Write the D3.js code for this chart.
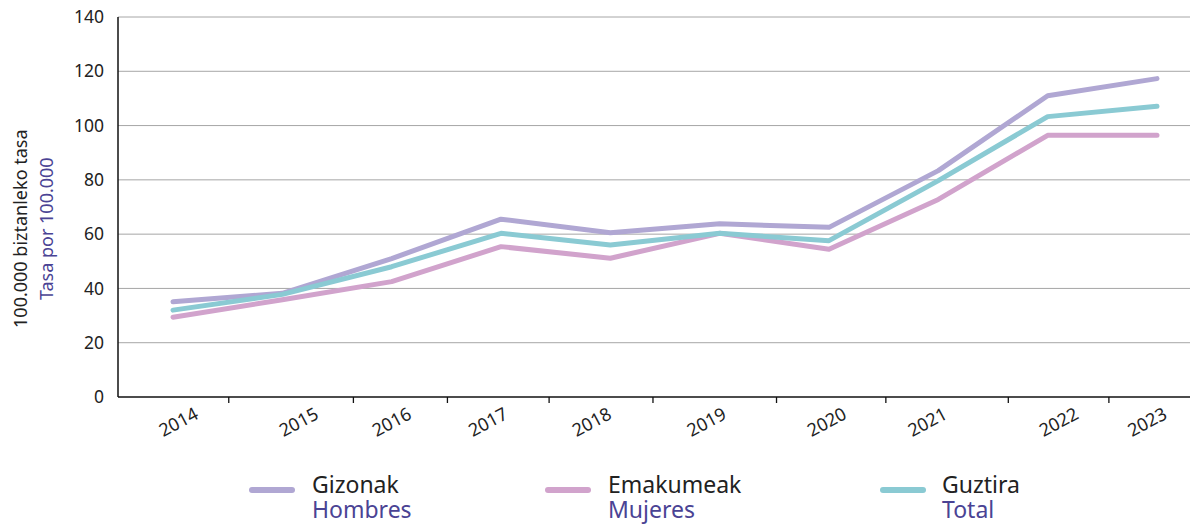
<!DOCTYPE html>
<html>
<head>
<meta charset="utf-8">
<script src="https://cdn.jsdelivr.net/npm/d3@7"></script>
<style>
  html, body { margin: 0; padding: 0; background: #fff; }
  svg { display: block; font-family: "Noto Sans", Lato, sans-serif; }
</style>
</head>
<body>
<svg id="chart" width="1190" height="524"></svg>
<script>
// Data
const years = [2014, 2015, 2016, 2017, 2018, 2019, 2020, 2021, 2022, 2023];
const gizonak = [35.1, 38.2, 51.0, 65.5, 60.5, 63.8, 62.5, 83.4, 111.0, 117.3];
const emakumeak = [29.4, 35.8, 42.5, 55.4, 51.1, 60.3, 54.4, 72.8, 96.4, 96.4];
const guztira = [32.0, 37.8, 48.0, 60.3, 56.0, 60.3, 57.6, 79.7, 103.3, 107.1];
const yTicks = [0, 20, 40, 60, 80, 100, 120, 140];
// the source places its x ticks and year labels unevenly (in year units)
const xTickPos = [2014.51, 2015.65, 2016.51, 2017.44, 2018.39, 2019.52, 2020.52, 2021.64, 2022.56];
const xLabelPos = [2014.05, 2015.15, 2016.0, 2016.88, 2017.83, 2018.88, 2019.98, 2020.9, 2022.1, 2022.91];
const seriesNames = ["Gizonak", "Emakumeak", "Guztira"];
const seriesNamesEs = ["Hombres", "Mujeres", "Total"];
const colors = ["#b0a7d3", "#d1a3cc", "#8acad3"];

const svg = d3.select("#chart");
const plotLeft = 118, plotRight = 1190, plotTop = 17, plotBottom = 397;

const x = d3.scaleLinear().domain([2014, 2023]).range([173, 1157]);
const y = d3.scaleLinear().domain([0, 140]).range([plotBottom, plotTop]);

// gridlines
svg.append("g")
    .selectAll("line")
    .data(yTicks.filter(d => d > 0))
    .enter()
    .append("line")
    .attr("x1", plotLeft)
    .attr("x2", plotRight)
    .attr("y1", d => y(d))
    .attr("y2", d => y(d))
    .attr("stroke", "#a6a6a6")
    .attr("stroke-width", 1);

// y tick labels
svg.append("g")
    .selectAll("text")
    .data(yTicks)
    .enter()
    .append("text")
    .attr("x", 104)
    .attr("y", d => y(d))
    .attr("dy", "0.35em")
    .attr("text-anchor", "end")
    .style("font-size", "17.5px")
    .style("fill", "#222")
    .text(d => d);

// y axis titles
svg.append("text")
    .attr("transform", `translate(21, ${y(62)}) rotate(-90)`)
    .attr("text-anchor", "middle")
    .attr("dy", "0.35em")
    .style("font-size", "18px")
    .style("fill", "#222")
    .text("100.000 biztanleko tasa");

svg.append("text")
    .attr("transform", `translate(47, ${y(62)}) rotate(-90)`)
    .attr("text-anchor", "middle")
    .attr("dy", "0.35em")
    .style("font-size", "18px")
    .style("fill", "#4a4394")
    .text("Tasa por 100.000");

// x ticks
svg.append("g")
    .selectAll("line")
    .data(xTickPos)
    .enter()
    .append("line")
    .attr("x1", d => x(d))
    .attr("x2", d => x(d))
    .attr("y1", plotBottom)
    .attr("y2", plotBottom + 6)
    .attr("stroke", "#111")
    .attr("stroke-width", 1.3);

// x labels, rotated
svg.append("g")
    .selectAll("text")
    .data(years)
    .enter()
    .append("text")
    .attr("transform", (d, i) => `translate(${x(xLabelPos[i])}, 422) rotate(-28)`)
    .attr("text-anchor", "middle")
    .attr("dy", "0.35em")
    .style("font-size", "18px")
    .style("fill", "#222")
    .text(d => d);

// lines
const seriesData = [gizonak, emakumeak, guztira];
const line = d3.line()
    .x((d, i) => x(years[i]))
    .y(d => y(d));

// draw order: purple, pink, then teal on top
[0, 1, 2].forEach(k => {
    svg.append("path")
        .datum(seriesData[k])
        .attr("d", line)
        .attr("fill", "none")
        .attr("stroke", colors[k])
        .attr("stroke-width", 5)
        .attr("stroke-linecap", "round")
        .attr("stroke-linejoin", "round");
});

// axis lines
svg.append("line")
    .attr("x1", plotLeft).attr("x2", plotLeft)
    .attr("y1", plotTop).attr("y2", plotBottom)
    .attr("stroke", "#111").attr("stroke-width", 1.5);
svg.append("line")
    .attr("x1", plotLeft).attr("x2", plotRight)
    .attr("y1", plotBottom).attr("y2", plotBottom)
    .attr("stroke", "#111").attr("stroke-width", 1.5);

// legend
const legendX = [252, 548, 883];
const legend = svg.append("g");
const items = legend.selectAll("g")
    .data(seriesNames)
    .enter()
    .append("g")
    .attr("transform", (d, i) => `translate(${legendX[i]}, 0)`);

items.append("line")
    .attr("x1", 0).attr("x2", 40)
    .attr("y1", 490).attr("y2", 490)
    .attr("stroke", (d, i) => colors[i])
    .attr("stroke-width", 6)
    .attr("stroke-linecap", "round");

items.append("text")
    .attr("x", (d, i) => i === 2 ? 59 : 60)
    .attr("y", 493)
    .style("font-size", "23px")
    .style("fill", "#222")
    .text(d => d);

items.append("text")
    .attr("x", (d, i) => i === 2 ? 59 : 60)
    .attr("y", 518)
    .style("font-size", "23px")
    .style("fill", "#4a4394")
    .text((d, i) => seriesNamesEs[i]);
</script>
</body>
</html>
